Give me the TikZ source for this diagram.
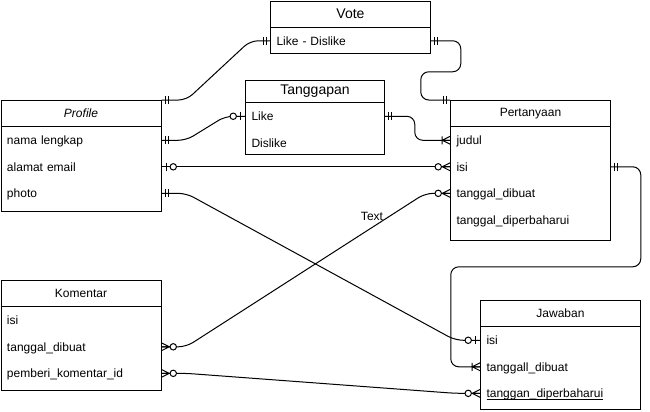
\documentclass[tikz,border=0pt]{standalone}
\usepackage{fontspec}
\setmainfont{Liberation Sans}
\usepackage{tikz}
\usetikzlibrary{positioning}

\tikzset{
    frame/.style={draw, line width=0.75pt, inner sep=0pt, anchor=north west},
    head/.style={draw, line width=0.75pt, inner sep=0pt, minimum width=120pt, minimum height=19.5pt, font=\fontsize{9}{11}\selectfont},
    bighead/.style={head, minimum height=16.5pt, font=\fontsize{10.5}{12}\selectfont},
    row/.style={inner xsep=4.5pt, inner ysep=0pt, text width=#1, text height=7.3pt, text depth=0.5pt, minimum height=19.5pt, align=left, font=\fontsize{9}{11}\selectfont},
    row/.default=111pt,
    link/.style={line width=0.75pt, rounded corners=6pt},
    mone/.pic={\draw[line width=0.75pt] (4,-4) -- (4,4) (7,-4) -- (7,4);},
    zone/.pic={\draw[line width=0.75pt] (5,-4) -- (5,4); \draw[line width=0.75pt, fill=white] (12,0) circle (2.4pt);},
    omany/.pic={\draw[line width=0.75pt] (0,-4) -- (8,0) -- (0,4) (0,0) -- (8,0) (8,-4) -- (8,4);},
    zmany/.pic={\draw[line width=0.75pt] (0,-4) -- (8,0) -- (0,4) (0,0) -- (8,0); \draw[line width=0.75pt, fill=white] (12,0) circle (2.4pt);}
}

\begin{document}
\begin{tikzpicture}[x=0.75pt, y=-0.75pt]
    \useasboundingbox (0,0) rectangle (650,411);

    % Vote
    \node[frame, minimum width=120pt, minimum height=39pt] (vote) at (270,0.5) {};
    \node[bighead, below=0pt of vote.north, minimum height=19.5pt] (vote-t) {Vote};
    \node[row, below=0pt of vote-t] (vote-like) {Like - Dislike};

    % Tanggapan
    \node[frame, minimum width=104.25pt, minimum height=55.5pt] (tang) at (245,80) {};
    \node[bighead, below=0pt of tang.north, minimum width=104.25pt] (tang-t) {Tanggapan};
    \node[row=95.25pt, below=0pt of tang-t] (tang-like) {Like};
    \node[row=95.25pt, below=0pt of tang-like] (tang-dislike) {Dislike};

    % Profile
    \node[frame, minimum width=120pt, minimum height=83.25pt] (prof) at (0.5,100) {};
    \node[head, below=0pt of prof.north] (prof-t) {\textit{Profile}};
    \node[row, below=0pt of prof-t] (prof-nama) {nama lengkap};
    \node[row, below=0pt of prof-nama] (prof-email) {alamat email};
    \node[row, below=0pt of prof-email] (prof-photo) {photo};

    % Pertanyaan
    \node[frame, minimum width=120pt, minimum height=105pt] (pert) at (450,100) {};
    \node[head, below=0pt of pert.north] (pert-t) {Pertanyaan};
    \node[row, below=0pt of pert-t] (pert-judul) {judul};
    \node[row, below=0pt of pert-judul] (pert-isi) {isi};
    \node[row, below=0pt of pert-isi] (pert-tgl) {tanggal\_dibuat};
    \node[row, below=0pt of pert-tgl] (pert-tgl2) {tanggal\_diperbaharui};

    % Komentar
    \node[frame, minimum width=120pt, minimum height=82.5pt] (kom) at (0.5,280) {};
    \node[head, below=0pt of kom.north] (kom-t) {Komentar};
    \node[row, below=0pt of kom-t] (kom-isi) {isi};
    \node[row, below=0pt of kom-isi] (kom-tgl) {tanggal\_dibuat};
    \node[row, below=0pt of kom-tgl] (kom-pemberi) {pemberi\_komentar\_id};

    % Jawaban
    \node[frame, minimum width=120pt, minimum height=81.75pt] (jaw) at (480,300) {};
    \node[head, below=0pt of jaw.north] (jaw-t) {Jawaban};
    \node[row, below=0pt of jaw-t] (jaw-isi) {isi};
    \node[row, below=0pt of jaw-isi] (jaw-tgl) {tanggall\_dibuat};
    \node[row, below=0pt of jaw-tgl] (jaw-tgl2) {\underline{\smash{tanggan\_diperbaharui}}};

    \node[font=\fontsize{9}{11}\selectfont] (lbl) at (372,216) {Text};

    % relations
    \draw[link] (prof.north east) -- ++(25,0) -- ([xshift=-15pt]vote-like.west) -- (vote-like.west); % profile-vote
    \draw[link] (prof-nama.east) -- ++(25,0) -- ([xshift=-15pt]tang-like.west) -- (tang-like.west); % profile-tanggapan
    \draw[link] (tang-like.east) -- ++(30,0) |- (pert-judul.west); % tanggapan-pertanyaan
    \draw[link] (vote-like.east) -- ++(30,0) -- ++(0,31) -- ++(-40,0) |- (pert.north west); % vote-pertanyaan
    \draw[link] (prof-email.east) -- (pert-isi.west); % profile-pertanyaan
    \draw[link] (prof-photo.east) -- ++(25,0) -- ([xshift=-18.75pt]jaw-isi.west) -- (jaw-isi.west); % profile-jawaban
    \draw[link] (kom-tgl.east) -- ++(25,0) -- ([xshift=-18.75pt]pert-tgl.west) -- (pert-tgl.west); % komentar-pertanyaan
    \draw[link] (kom-pemberi.east) -- ++(25,0) -- ([xshift=-18.75pt]jaw-tgl2.west) -- (jaw-tgl2.west); % komentar-jawaban
    \draw[link] (pert-isi.east) -- ++(30,0) -- ++(0,100) -- ++(-190,0) |- (jaw-tgl.west); % pertanyaan-jawaban

    % ends
    \pic at (prof.north east) {mone};
    \pic[xscale=-1] at (vote-like.west) {mone};
    \pic at (prof-nama.east) {mone};
    \pic[xscale=-1] at (tang-like.west) {zone};
    \pic at (tang-like.east) {mone};
    \pic[xscale=-1] at (pert-judul.west) {omany};
    \pic at (vote-like.east) {mone};
    \pic[xscale=-1] at (pert.north west) {mone};
    \pic at (prof-email.east) {zone};
    \pic[xscale=-1] at (pert-isi.west) {zmany};
    \pic at (prof-photo.east) {mone};
    \pic[xscale=-1] at (jaw-isi.west) {zone};
    \pic at (kom-tgl.east) {zmany};
    \pic[xscale=-1] at (pert-tgl.west) {zmany};
    \pic at (kom-pemberi.east) {zmany};
    \pic[xscale=-1] at (jaw-tgl2.west) {zmany};
    \pic at (pert-isi.east) {mone};
    \pic[xscale=-1] at (jaw-tgl.west) {omany};
\end{tikzpicture}
\end{document}
